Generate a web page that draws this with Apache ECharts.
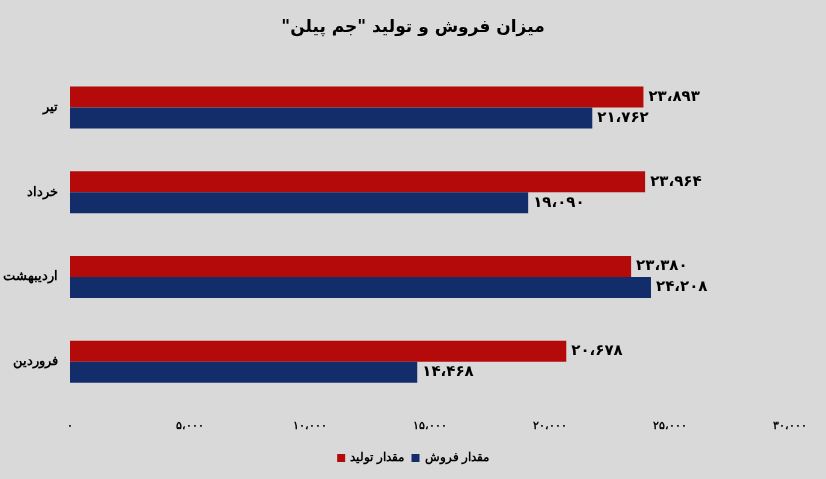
<!DOCTYPE html>
<html><head><meta charset="utf-8">
<script src="https://cdn.jsdelivr.net/npm/echarts@6/dist/echarts.min.js"></script>
<style>html,body{margin:0;padding:0;background:#d9d9d9}#c{width:826px;height:479px}</style>
</head><body><div id="c"></div>
<script>
const categories = ['فروردین','اردیبهشت','خرداد','تیر'];
const production = [20678, 23380, 23964, 23893];
const sales = [14468, 24208, 19090, 21762];
const seriesNames = ['مقدار تولید','مقدار فروش'];
const fa = s => String(s).replace(/\d/g, d => '۰۱۲۳۴۵۶۷۸۹'[d]);
const fmt = v => fa(Number(v).toLocaleString('en-US')).replace(/,/g,'،');
const lbl = {show:true, position:'right', formatter:p=>fmt(p.value), color:'#000', fontWeight:'bold', fontSize:15, fontFamily:'DejaVu Sans'};
const chart = echarts.init(document.getElementById('c'));
chart.setOption({
  backgroundColor:'#d9d9d9',
  title:{text:'\u200Fمیزان فروش و تولید "جم پیلن"\u200F', left:'center', top:14, textStyle:{fontSize:17, fontWeight:'bold', color:'#000', fontFamily:'DejaVu Sans'}},
  legend:{data:seriesNames, bottom:10, left:'center', itemWidth:8, itemHeight:8, icon:'rect', textStyle:{fontWeight:'bold', fontSize:12, color:'#000'}},
  grid:{left:68, right:36, top:65, bottom:75},
  xAxis:{type:'value', min:0, max:30000, interval:5000, splitLine:{show:false}, axisLine:{show:false}, axisTick:{show:false},
    axisLabel:{formatter:v=>fmt(v), color:'#000', fontWeight:'bold', fontSize:11, margin:16}},
  yAxis:{type:'category', data:categories, axisLine:{show:false}, axisTick:{show:false},
    axisLabel:{color:'#000', fontWeight:'bold', fontSize:13, margin:12}},
  series:[
    {name:seriesNames[0], type:'bar', data:production, barWidth:21, barGap:'0%', itemStyle:{color:'#b50a0a'}, label:lbl},
    {name:seriesNames[1], type:'bar', data:sales, barWidth:21, barGap:'0%', itemStyle:{color:'#132d6b'}, label:lbl}
  ]
});
</script></body></html>
